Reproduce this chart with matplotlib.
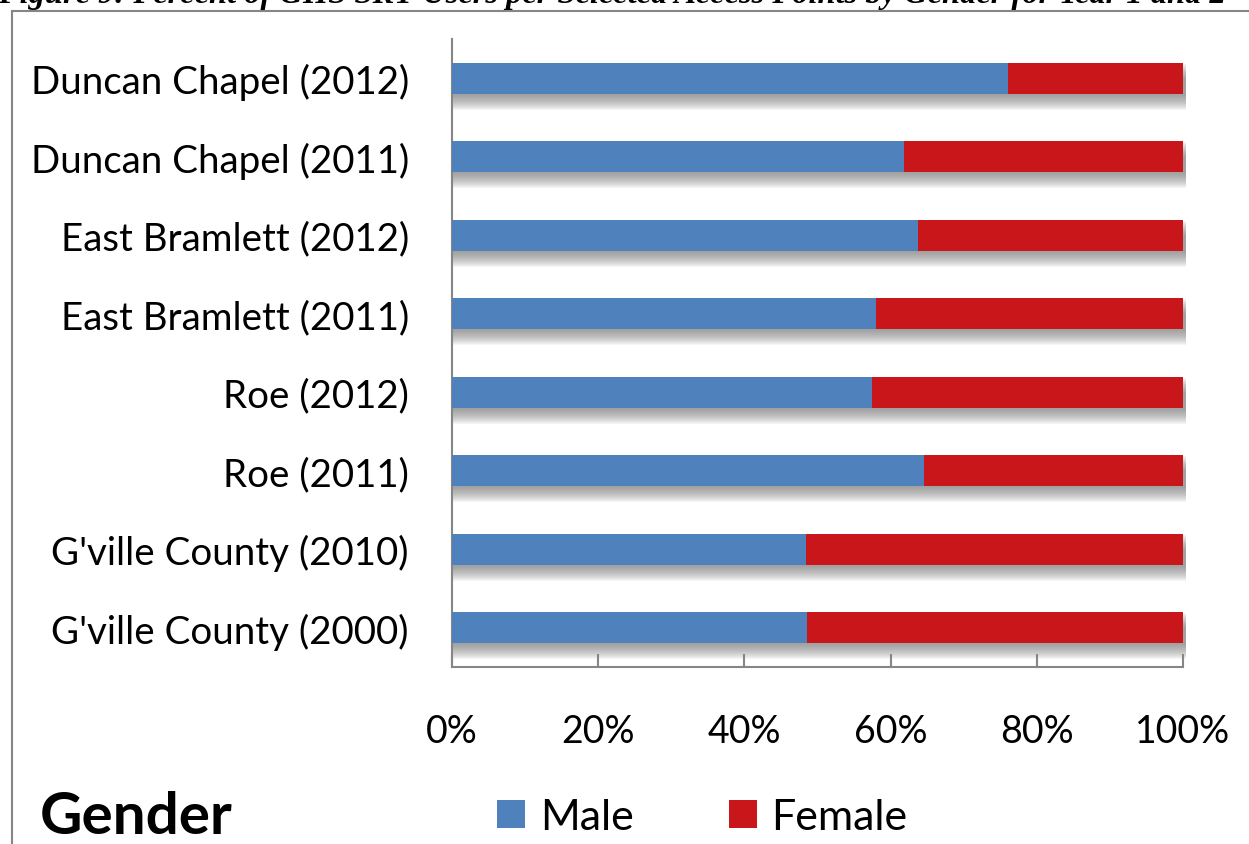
import numpy as np
import matplotlib.pyplot as plt

# Access points, top to bottom
sites = ['Duncan Chapel (2012)', 'Duncan Chapel (2011)', 'East Bramlett (2012)',
         'East Bramlett (2011)', 'Roe (2012)', 'Roe (2011)',
         "G'ville County (2010)", "G'ville County (2000)"]
male = [76.0, 61.9, 63.7, 58.0, 57.5, 64.6, 48.4, 48.6]
female = [100 - m for m in male]
ticks = [0, 20, 40, 60, 80, 100]

blue = '#4F81BD'
red = '#C8161A'
grey_line = '#868686'
label_font = ['Lato', 'DejaVu Sans']

fig = plt.figure(figsize=(12.49, 8.45), dpi=100)
ax = fig.add_axes([452 / 1249, 1 - 668 / 845, (1183 - 452) / 1249, (668 - 40) / 845])

y = np.arange(len(sites))
h = 0.4
total = np.array(male) + np.array(female)

# soft drop shadow under each bar
px = 1 / 78.5
for d in range(1, 17):
    ax.barh(y + d * px, total + 0.35, height=h, left=0, color='#7f7f7f',
            alpha=0.07, linewidth=0, clip_on=False, zorder=1)

ax.barh(y, male, height=h, color=blue, label='Male', linewidth=0, zorder=3)
ax.barh(y, female, height=h, left=male, color=red, label='Female', linewidth=0, zorder=3)

ax.set_xlim(0, 100)
ax.set_ylim(len(sites) - 0.5, -0.5)
ax.set_yticks(y)
ax.set_yticklabels(sites, fontsize=27.7, family=label_font)
ax.set_xticks(ticks)
ax.set_xticklabels([f'{t}%' for t in ticks], fontsize=27, family=label_font)
ax.tick_params(axis='y', length=0, pad=31)
ax.tick_params(axis='x', direction='in', length=9.5, width=1.5, color=grey_line, pad=33)
for s in ['top', 'right']:
    ax.spines[s].set_visible(False)
for s in ['left', 'bottom']:
    ax.spines[s].set_color(grey_line)
    ax.spines[s].set_linewidth(1.5)

# outer frame (left and top edges)
fig.add_artist(plt.Line2D([12 / 1249, 12 / 1249], [0, 1 - 12 / 845], color=grey_line, lw=1.5))
fig.add_artist(plt.Line2D([12 / 1249, 1], [1 - 12 / 845, 1 - 12 / 845], color=grey_line, lw=1.5))

fig.text(-2 / 1249, 1 - 3 / 845,
         'Figure 9: Percent of GHS SRT Users per Selected Access Points by Gender for Year 1 and 2',
         family='Liberation Serif', style='italic', weight='bold', fontsize=23.4,
         ha='left', va='baseline')

fig.text(40 / 1249, 1 - 834 / 845, 'Gender', family=label_font, weight='bold',
         fontsize=42, ha='left', va='baseline')

fig.legend(loc='center left', bbox_to_anchor=(497 / 1249, 1 - 818 / 845), ncol=2,
           frameon=False, prop={'family': label_font, 'size': 31},
           handlelength=0.65, handleheight=0.65, handletextpad=0.35, columnspacing=2.2,
           borderaxespad=0, borderpad=0)

fig.savefig('out.png', dpi=100)
